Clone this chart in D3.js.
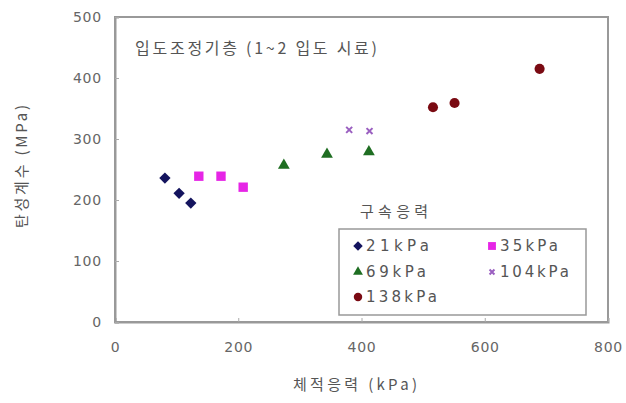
<!DOCTYPE html>
<html><head><meta charset="utf-8">
<script src="https://cdn.jsdelivr.net/npm/d3@7"></script>
<style>body{margin:0;background:#fff;} svg{display:block;font-family:"Noto Sans CJK KR","Noto Sans",sans-serif;}</style>
</head><body><svg id="c" width="626" height="403"></svg>
<script>
const xTicks = [0, 200, 400, 600, 800];
const yTicks = [0, 100, 200, 300, 400, 500];
const seriesNames = ["21kPa", "35kPa", "69kPa", "104kPa", "138kPa"];
const s21x = [81, 104, 123];   const s21y = [236, 211, 195];
const s35x = [136, 172, 208];  const s35y = [239, 239, 221];
const s69x = [274, 344, 412];  const s69y = [257, 275, 279];
const s104x = [380, 413];      const s104y = [315, 313];
const s138x = [516, 551, 689]; const s138y = [352, 359, 415];
const titleText = "입도조정기층 (1~2 입도 시료)";
const xLabel = "체적응력 (kPa)";
const yLabel = "탄성계수 (MPa)";
const legendTitle = "구속응력";

const diamond = {draw(ctx, size) { const r = Math.sqrt(size / 2); ctx.moveTo(0, -r); ctx.lineTo(r, 0); ctx.lineTo(0, r); ctx.lineTo(-r, 0); ctx.closePath(); }};

const series = [
  {name: seriesNames[0], xs: s21x, ys: s21y, sym: diamond, color: "#14145e", size: 64},
  {name: seriesNames[1], xs: s35x, ys: s35y, sym: d3.symbolSquare, color: "#e625e6", size: 88},
  {name: seriesNames[2], xs: s69x, ys: s69y, sym: d3.symbolTriangle, color: "#1f6e22", size: 60},
  {name: seriesNames[3], xs: s104x, ys: s104y, sym: d3.symbolTimes, color: "#9a5fc0", size: 25, stroke: true},
  {name: seriesNames[4], xs: s138x, ys: s138y, sym: d3.symbolCircle, color: "#7a0a12", size: 80}
];
const legendW = [63, 58, 60, 69, 71];

const svg = d3.select("#c");
const L = 115, R = 608, T = 17, B = 322;
const x = d3.scaleLinear().domain([0, 800]).range([L, R]);
const y = d3.scaleLinear().domain([0, 500]).range([B, T]);
const gray = "#666";
const tickFont = "'DejaVu Sans', sans-serif";

// frame
svg.append("rect").attr("x", L).attr("y", T).attr("width", R - L).attr("height", B - T)
  .attr("fill", "none").attr("stroke", "#999").attr("stroke-width", 2);

const xa = svg.append("g").attr("transform", `translate(0,${B})`)
  .call(d3.axisBottom(x).tickValues(xTicks).tickSize(-4).tickPadding(20));
const ya = svg.append("g").attr("transform", `translate(${L},0)`)
  .call(d3.axisLeft(y).tickValues(yTicks).tickSize(-4).tickPadding(13));
[xa, ya].forEach(a => {
  a.select(".domain").attr("stroke", "#999").attr("stroke-width", 2);
  a.selectAll(".tick line").attr("stroke", "#aaa");
  a.selectAll("text").attr("fill", gray).attr("font-size", 14).attr("letter-spacing", 0.8)
    .attr("font-family", tickFont);
});

// title inside
svg.append("text").attr("x", 135).attr("y", 54).attr("fill", "#555").attr("font-size", 16)
  .attr("textLength", 242).attr("lengthAdjust", "spacing").text(titleText);

// axis labels
svg.append("text").attr("x", 293).attr("y", 390)
  .attr("fill", "#555").attr("font-size", 15).attr("textLength", 124).attr("lengthAdjust", "spacing").text(xLabel);
svg.append("text").attr("transform", `translate(27,228) rotate(-90)`)
  .attr("fill", "#555").attr("font-size", 15).attr("textLength", 123).attr("lengthAdjust", "spacing").text(yLabel);

// points
series.forEach(s => {
  const g = svg.append("g");
  s.xs.forEach((xv, i) => {
    const p = g.append("path").attr("d", d3.symbol(s.sym, s.size)())
      .attr("transform", `translate(${x(xv)},${y(s.ys[i])})`);
    if (s.stroke) p.attr("fill", "none").attr("stroke", s.color).attr("stroke-width", 2);
    else p.attr("fill", s.color);
  });
});

// legend
svg.append("text").attr("x", 360).attr("y", 217).attr("fill", "#555").attr("font-size", 15)
  .attr("textLength", 68).attr("lengthAdjust", "spacing").text(legendTitle);
svg.append("rect").attr("x", 339).attr("y", 229).attr("width", 247).attr("height", 86)
  .attr("fill", "#fff").attr("stroke", "#999").attr("stroke-width", 1.5);
const pos = [[358, 246], [492, 246], [358, 272], [492, 272], [358, 297]];
series.forEach((s, i) => {
  const [px, py] = pos[i];
  const p = svg.append("path").attr("d", d3.symbol(s.sym, s.size * 0.7)()).attr("transform", `translate(${px},${py})`);
  if (s.stroke) p.attr("fill", "none").attr("stroke", s.color).attr("stroke-width", 2);
  else p.attr("fill", s.color);
  svg.append("text").attr("x", px + 8).attr("y", py + 5).attr("fill", "#555").attr("font-size", 15)
    .attr("font-family", tickFont).attr("textLength", legendW[i]).attr("lengthAdjust", "spacing").text(s.name);
});
</script></body></html>
